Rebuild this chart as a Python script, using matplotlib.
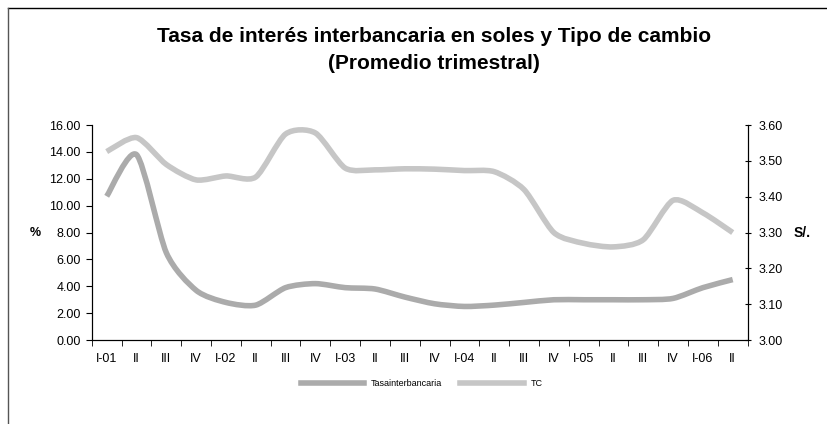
import numpy as np
import matplotlib
matplotlib.use("Agg")
import matplotlib.pyplot as plt
from matplotlib.lines import Line2D
from matplotlib.path import Path
from matplotlib.patches import PathPatch

plt.rcParams["font.family"] = ["Liberation Sans", "DejaVu Sans"]

quarters = ["I-01", "II", "III", "IV", "I-02", "II", "III", "IV", "I-03", "II",
            "III", "IV", "I-04", "II", "III", "IV", "I-05", "II", "III", "IV",
            "I-06", "II"]
tasa = [10.7, 13.8, 6.5, 3.7, 2.8, 2.6, 3.9, 4.2, 3.9, 3.8, 3.2, 2.7,
        2.5, 2.6, 2.8, 3.0, 3.0, 3.0, 3.0, 3.1, 3.9, 4.5]
tc = [3.526, 3.565, 3.49, 3.447, 3.458, 3.455, 3.575, 3.578, 3.48, 3.475,
      3.478, 3.477, 3.473, 3.47, 3.42, 3.30, 3.27, 3.26, 3.28, 3.39,
      3.355, 3.30]
left_ticks = [0, 2, 4, 6, 8, 10, 12, 14, 16]
right_ticks = [3.0, 3.1, 3.2, 3.3, 3.4, 3.5, 3.6]


def smooth_path(xs, ys, k=8.0):
    # Excel-like smoothed line: Catmull-Rom style cubic Bezier segments
    p = np.column_stack([xs, ys]).astype(float)
    pad = np.vstack([p[0], p, p[-1]])
    verts = [p[0]]
    codes = [Path.MOVETO]
    for i in range(len(p) - 1):
        p0, p1, p2, p3 = pad[i], pad[i + 1], pad[i + 2], pad[i + 3]
        verts += [p1 + (p2 - p0) / k, p2 - (p3 - p1) / k, p2]
        codes += [Path.CURVE4] * 3
    return Path(verts, codes)


fig = plt.figure(figsize=(8.27, 4.24), dpi=100)
ax = fig.add_axes([0.111, 0.198, 0.793, 0.507])
ax2 = ax.twinx()

x = np.arange(len(quarters))
c1, c2 = "#ababab", "#c6c6c6"
ax.add_patch(PathPatch(smooth_path(x, tasa), fill=False, edgecolor=c1, lw=4,
                       capstyle="butt", joinstyle="round"))
ax2.add_patch(PathPatch(smooth_path(x, tc), fill=False, edgecolor=c2, lw=4,
                        capstyle="butt", joinstyle="round"))

ax.set_xlim(-0.5, len(quarters) - 0.5)
ax.set_ylim(0, 16)
ax2.set_ylim(3.0, 3.6)

ax.set_yticks(left_ticks)
ax.set_yticklabels([f"{v:.2f}" for v in left_ticks], fontsize=9)
ax2.set_yticks(right_ticks)
ax2.set_yticklabels([f"{v:.2f}" for v in right_ticks], fontsize=9)

ax.set_xticks(x)
ax.set_xticklabels(quarters, fontsize=9)
ax.set_xticks(np.arange(-0.5, len(quarters), 1), minor=True)
ax.tick_params(axis="x", which="major", length=0, pad=9)
ax.tick_params(axis="x", which="minor", length=4, direction="out", color="black")
ax.tick_params(axis="y", length=4, width=0.8, pad=4)
ax2.tick_params(axis="y", length=4, width=0.8, pad=6, direction="inout")

for a in (ax, ax2):
    a.spines["top"].set_visible(False)
    for s in ("left", "right", "bottom"):
        a.spines[s].set_linewidth(0.8)

ax.set_ylabel("%", rotation=0, fontsize=9, fontweight="bold", labelpad=10, va="center")
ax2.set_ylabel("S/.", rotation=0, fontsize=10, fontweight="bold", labelpad=14, va="center")

fig.text(0.525, 0.913, "Tasa de interés interbancaria en soles y Tipo de cambio",
         ha="center", va="center", fontsize=15, fontweight="bold")
fig.text(0.525, 0.850, "(Promedio trimestral)",
         ha="center", va="center", fontsize=15, fontweight="bold")

h1 = Line2D([], [], color=c1, lw=4)
h2 = Line2D([], [], color=c2, lw=4)
fig.legend([h1, h2], ["Tasainterbancaria", "TC"], loc="center",
           bbox_to_anchor=(0.51, 0.095), ncol=2, frameon=False, fontsize=6.5,
           handlelength=7, columnspacing=2)

# outer frame: top and left edges only
fig.add_artist(Line2D([8 / 827, 1.0], [1 - 8 / 424] * 2, color="black", lw=1))
fig.add_artist(Line2D([8 / 827] * 2, [0, 1 - 8 / 424], color="#555555", lw=1))

fig.savefig("out.png", dpi=100)
